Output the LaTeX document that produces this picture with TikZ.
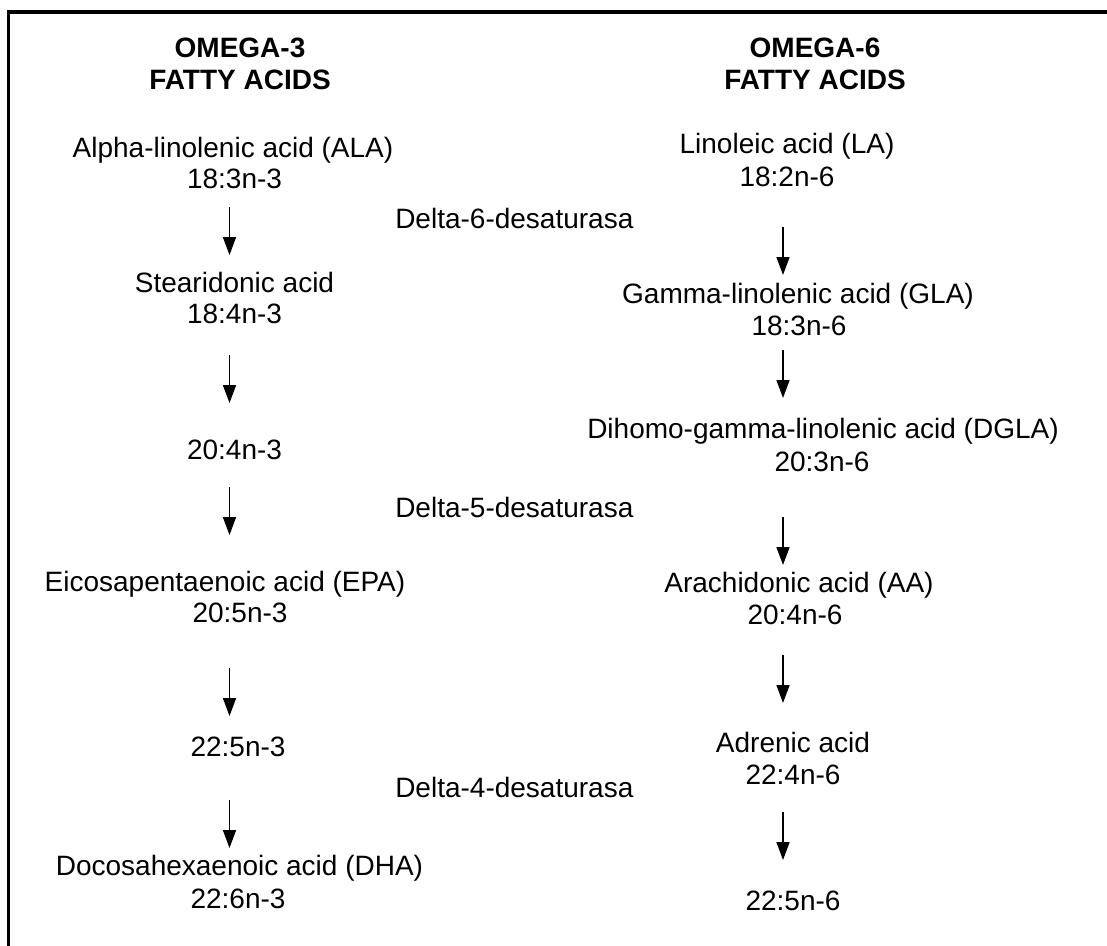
\documentclass[tikz,border=0pt]{standalone}
\usepackage{fontspec}
\setmainfont{Liberation Sans}
\usetikzlibrary{arrows.meta}
\begin{document}
\begin{tikzpicture}[x=0.75pt,y=-0.75pt,
  txt/.style={anchor=base,inner sep=0pt,font=\fontsize{21}{25}\selectfont},
  hdr/.style={anchor=base,inner sep=0pt,font=\fontsize{21}{25}\selectfont\bfseries},
  enz/.style={anchor=base west,inner sep=0pt,font=\fontsize{21}{25}\selectfont},
  arr/.style={line width=1.2pt,-{Triangle[length=13.5pt,width=9.75pt]}}]
\useasboundingbox (0,0) rectangle (1107,946);
\draw[line width=2.6pt] (8.5,946) -- (8.5,12) -- (1107,12);
% headers
\node[hdr] (h3a) at (240,57) {OMEGA-3};
\node[hdr] (h3b) at (240,89) {FATTY ACIDS};
\node[hdr] (h6a) at (815,57) {OMEGA-6};
\node[hdr] (h6b) at (815,89) {FATTY ACIDS};
% omega-3 column
\node[txt] (ala1) at (233,157) {Alpha-linolenic acid (ALA)};
\node[txt] (ala2) at (234.5,188) {18:3n-3};
\node[txt] (sda1) at (234.5,292) {Stearidonic acid};
\node[txt] (sda2) at (234.5,323) {18:4n-3};
\node[txt] (eta) at (234.5,459) {20:4n-3};
\node[txt] (epa1) at (225,591) {Eicosapentaenoic acid (EPA)};
\node[txt] (epa2) at (240,622) {20:5n-3};
\node[txt] (dpa) at (238,756) {22:5n-3};
\node[txt] (dha1) at (239.5,875) {Docosahexaenoic acid (DHA)};
\node[txt] (dha2) at (238,908) {22:6n-3};
% enzymes
\node[enz] (d6) at (395,228) {Delta-6-desaturasa};
\node[enz] (d5) at (395,517) {Delta-5-desaturasa};
\node[enz] (d4) at (395,797) {Delta-4-desaturasa};
% omega-6 column
\node[txt] (la1) at (787,153) {Linoleic acid (LA)};
\node[txt] (la2) at (787,186) {18:2n-6};
\node[txt] (gla1) at (798,303) {Gamma-linolenic acid (GLA)};
\node[txt] (gla2) at (799,335) {18:3n-6};
\node[txt] (dgla1) at (823,438) {Dihomo-gamma-linolenic acid (DGLA)};
\node[txt] (dgla2) at (822,471) {20:3n-6};
\node[txt] (aa1) at (799,592) {Arachidonic acid (AA)};
\node[txt] (aa2) at (795,624) {20:4n-6};
\node[txt] (adr1) at (793,752) {Adrenic acid};
\node[txt] (adr2) at (793,784) {22:4n-6};
\node[txt] (dpa6) at (793,910) {22:5n-6};
% arrow end points
\coordinate (l1s) at (229.5,207); \coordinate (l1e) at (229.5,255);
\coordinate (l2s) at (229.5,355); \coordinate (l2e) at (229.5,403);
\coordinate (l3s) at (229.5,487); \coordinate (l3e) at (229.5,535);
\coordinate (l4s) at (229.5,668); \coordinate (l4e) at (229.5,716);
\coordinate (l5s) at (229.5,800); \coordinate (l5e) at (229.5,848);
\coordinate (r1s) at (783,227); \coordinate (r1e) at (783,275);
\coordinate (r2s) at (783,350); \coordinate (r2e) at (783,398);
\coordinate (r3s) at (783,517); \coordinate (r3e) at (783,565);
\coordinate (r4s) at (783,655); \coordinate (r4e) at (783,703);
\coordinate (r5s) at (783,812); \coordinate (r5e) at (783,860);
\foreach \a in {l1,l2,l3,l4,l5,r1,r2,r3,r4,r5}{\draw[arr] (\a s) -- (\a e);}
\end{tikzpicture}
\end{document}
